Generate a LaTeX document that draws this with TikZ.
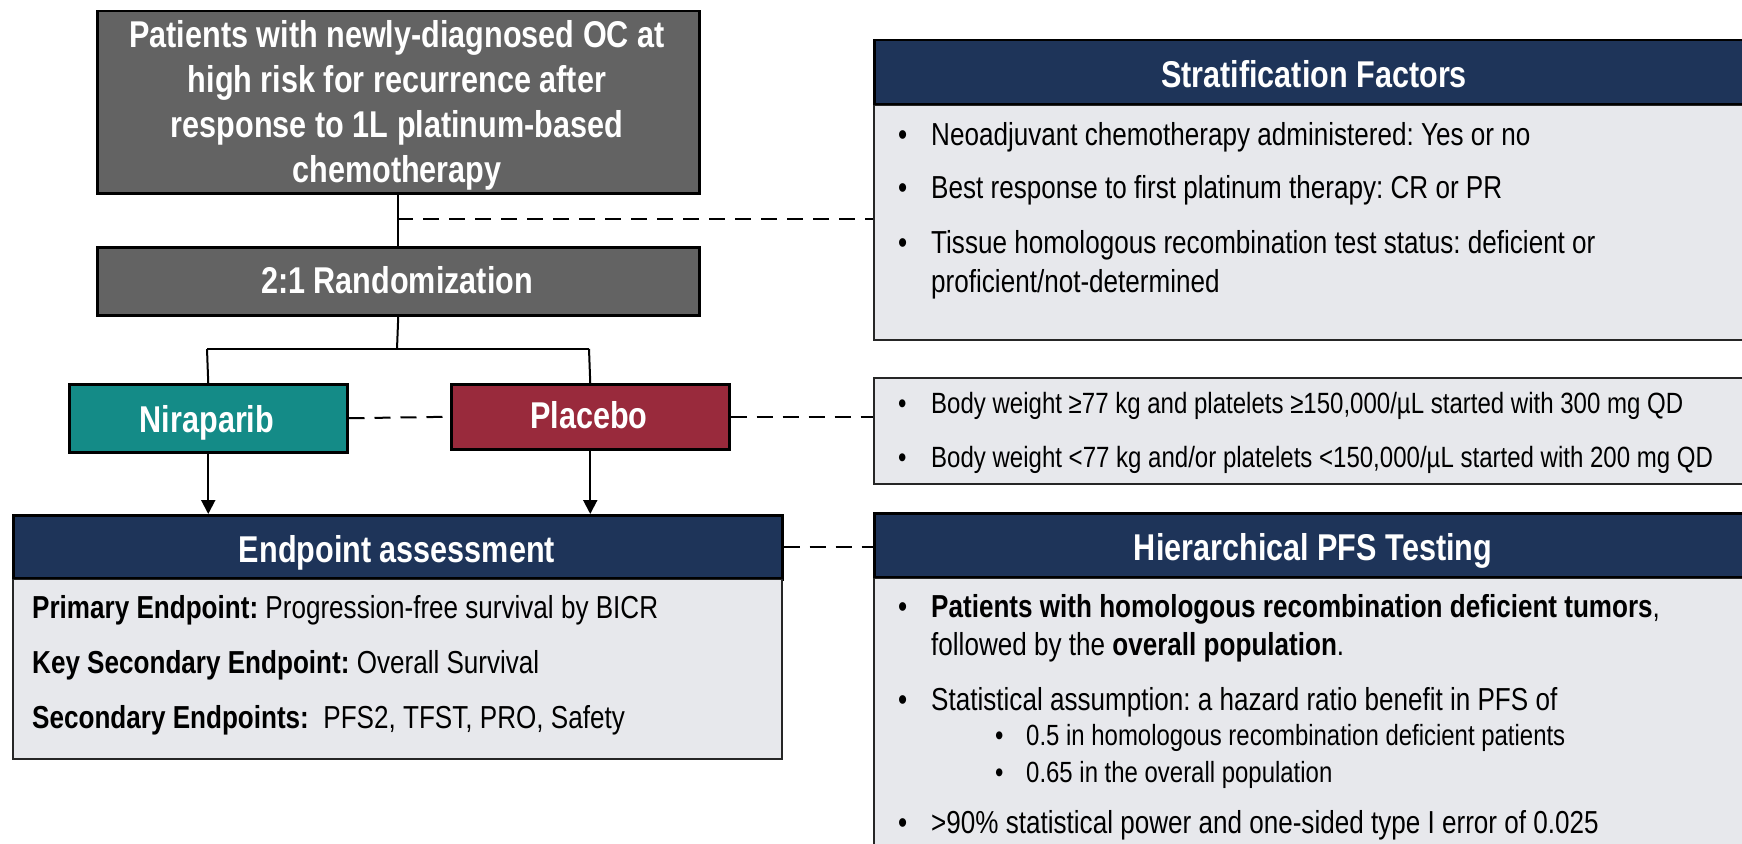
\documentclass[tikz,border=0pt]{standalone}
\usepackage{fontspec}
\setmainfont[FakeStretch=0.82]{Liberation Sans}
\usetikzlibrary{arrows.meta}
\definecolor{boxgray}{HTML}{636363}
\definecolor{navyhead}{HTML}{1E3459}
\definecolor{nirteal}{HTML}{148B87}
\definecolor{plared}{HTML}{992A3C}
\definecolor{bodygray}{HTML}{E7E8EC}
\frenchspacing
\tikzset{
  box/.style={draw=black, line width=2.5pt, inner sep=0pt, anchor=north west},
  graybox/.style={box, fill=boxgray},
  headbox/.style={box, fill=navyhead},
  bodybox/.style={box, draw=black!85, line width=2pt, fill=bodygray},
  headtxt/.style={text=white, font=\fontsize{37.3}{45}\selectfont\bfseries, inner sep=0pt, anchor=base},
  bodytxt/.style={text=black, font=\fontsize{31.8}{38}\selectfont, inner sep=0pt, anchor=base west},
  dosetxt/.style={text=black, font=\fontsize{29.3}{35}\selectfont, inner sep=0pt, anchor=base west},
  subtxt/.style={text=black, font=\fontsize{29.2}{35}\selectfont, inner sep=0pt, anchor=base west},
  conn/.style={line width=2pt, draw=black},
  dashconn/.style={line width=2pt, draw=black, dash pattern=on 16pt off 10pt},
  arrconn/.style={conn, -{Triangle[length=14pt,width=14pt]}},
}
\begin{document}
\begin{tikzpicture}[x=1pt, y=-1pt]
\useasboundingbox (0,0) rectangle (1742,843);
% right side boxes
\node[headbox, minimum width=890pt, minimum height=65pt] (strathead) at (873,39) {};
\node[bodybox, minimum width=890pt, minimum height=235pt] (stratbody) at (873,104) {};
\draw[line width=2.5pt] (873,104) -- (1745,104);
\node[headtxt] (strattitle) at (1314,87) {Stratification Factors};
\node[bodytxt] (sb1) at (898,145) {•};
\node[bodytxt] (st1) at (931,145) {Neoadjuvant chemotherapy administered: Yes or no};
\node[bodytxt] (sb2) at (898,198) {•};
\node[bodytxt] (st2) at (931,198) {Best response to first platinum therapy: CR or PR};
\node[bodytxt] (sb3) at (898,253) {•};
\node[bodytxt] (st3) at (931,253) {Tissue homologous recombination test status: deficient or};
\node[bodytxt] (st3b) at (931,292) {proficient/not-determined};

\node[bodybox, minimum width=890pt, minimum height=106pt] (dose) at (873,377) {};
\node[dosetxt] (db1) at (898,413) {•};
\node[dosetxt] (dt1) at (931,413) {Body weight ≥77 kg and platelets ≥150,000/µL started with 300 mg QD};
\node[dosetxt] (db2) at (898,467) {•};
\node[dosetxt] (dt2) at (931,467) {Body weight <77 kg and/or platelets <150,000/µL started with 200 mg QD};

\node[headbox, minimum width=890pt, minimum height=65pt] (hierhead) at (873,512) {};
\node[bodybox, minimum width=890pt, minimum height=300pt] (hierbody) at (873,577) {};
\draw[line width=2.5pt] (873,577) -- (1745,577);
\node[headtxt] (hiertitle) at (1313,560) {Hierarchical PFS Testing};
\node[bodytxt] (hb1) at (898,617) {•};
\node[bodytxt] (ht1) at (931,617) {\textbf{Patients with homologous recombination deficient tumors},};
\node[bodytxt] (ht1b) at (931,655) {followed by the \textbf{overall population}.};
\node[bodytxt] (hb2) at (898,710) {•};
\node[bodytxt] (ht2) at (931,710) {Statistical assumption: a hazard ratio benefit in PFS of};
\node[subtxt] (hs1) at (995,745) {•};
\node[subtxt] (hst1) at (1026,745) {0.5 in homologous recombination deficient patients};
\node[subtxt] (hs2) at (995,782) {•};
\node[subtxt] (hst2) at (1026,782) {0.65 in the overall population};
\node[bodytxt] (hb3) at (898,833) {•};
\node[bodytxt] (ht3) at (931,833) {>90\% statistical power and one-sided type I error of 0.025};

% left side
\node[graybox, minimum width=602pt, minimum height=182pt] (top) at (96,10) {};
\node[text=white, font=\fontsize{37.3}{45}\selectfont\bfseries, align=center, inner sep=0pt] (toptxt) at (397,105)
  {Patients with newly-diagnosed OC at\\high risk for recurrence after\\response to 1L platinum-based\\chemotherapy};
\node[graybox, minimum width=602pt, minimum height=68pt] (rand) at (96,246) {};
\node[headtxt] (randtxt) at (397,293) {2:1 Randomization};
\node[box, fill=nirteal, minimum width=278pt, minimum height=68pt] (nir) at (68,383) {};
\node[headtxt] (nirtxt) at (207,432) {Niraparib};
\node[box, fill=plared, minimum width=278pt, minimum height=65pt] (pla) at (450,383) {};
\node[headtxt] (platxt) at (589,428) {Placebo};

\node[headbox, minimum width=769pt, minimum height=64pt] (endhead) at (12,514) {};
\node[bodybox, minimum width=769pt, minimum height=180pt] (endbody) at (12,578) {};
\draw[line width=2.5pt] (endbody.north west) -- (endbody.north east);
\node[headtxt] (endtitle) at (397,562) {Endpoint assessment};
\node[bodytxt] (e1) at (32,618) {\textbf{Primary Endpoint:} Progression-free survival by BICR};
\node[bodytxt] (e2) at (32,673) {\textbf{Key Secondary Endpoint:} Overall Survival};
\node[bodytxt] (e3) at (32,728) {\textbf{Secondary Endpoints:}\ \ PFS2, TFST, PRO, Safety};

% connectors
\draw[conn] (top.south) -- (rand.north);
\coordinate (j1) at (397,219);
\draw[dashconn] (j1) -- (j1 -| stratbody.west);
\coordinate (j2) at (397,349);
\draw[conn] (rand.south) -- (j2);
\coordinate (bl) at (207,349);
\coordinate (br) at (589,349);
\draw[conn] (bl) -- (br);
\draw[conn] (bl) -- (nir.north);
\draw[conn] (br) -- (pla.north);
\draw[dashconn] (nir.east) -- (pla.west);
\draw[dashconn] (pla.east) -- (pla.east -| dose.west);
\draw[arrconn] (nir.south) -- (nir.south |- endhead.north);
\draw[arrconn] (pla.south) -- (pla.south |- endhead.north);
\draw[dashconn] (endhead.east) -- (endhead.east -| hierhead.west);
\end{tikzpicture}
\end{document}
